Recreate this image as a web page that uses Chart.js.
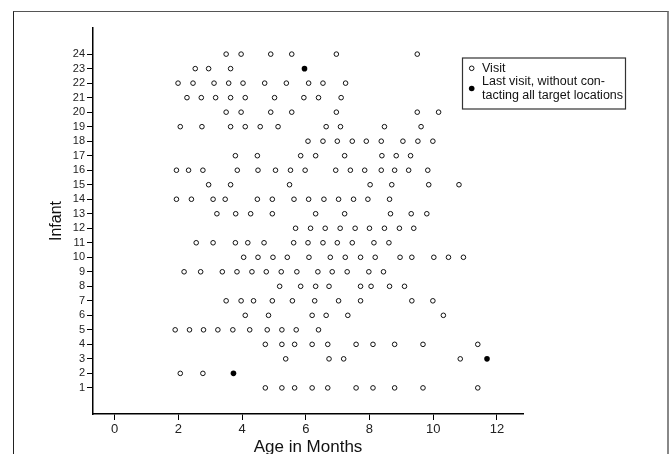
<!DOCTYPE html>
<html>
<head>
<meta charset="utf-8">
<script src="https://cdn.jsdelivr.net/npm/chart.js@4/dist/chart.umd.min.js"></script>
<style>
  html, body { margin: 0; padding: 0; background: #fff; overflow: hidden; }
  #wrap { position: relative; width: 672px; height: 454px; }
  #frame {
    position: absolute; left: 13px; top: 11px; width: 656px; height: 460px;
    border-top: 1px solid #555; border-left: 1px solid #222; border-right: 2px solid #888;
    box-sizing: border-box; pointer-events: none;
  }
</style>
</head>
<body>
<div id="wrap">
  <canvas id="chart" width="672" height="454"></canvas>
  <div id="frame"></div>
</div>
<script>
// 데이터: 영아 번호별 방문 나이(개월)
const infants = [1, 2, 3, 4, 5, 6, 7, 8, 9, 10, 11, 12, 13, 14, 15, 16, 17, 18, 19, 20, 21, 22, 23, 24];
const ageTicks = [0, 2, 4, 6, 8, 10, 12];

// visitAges[i] = infant i+1
const visitAges = [
    [4.73, 5.25, 5.65, 6.20, 6.69, 7.58, 8.11, 8.79, 9.68, 11.40],
    [2.06, 2.77],
    [5.37, 6.73, 7.19, 10.85],
    [4.73, 5.25, 5.65, 6.20, 6.69, 7.58, 8.11, 8.79, 9.68, 11.40],
    [1.90, 2.35, 2.79, 3.24, 3.71, 4.24, 4.79, 5.25, 5.70, 6.40],
    [4.10, 4.83, 6.20, 6.64, 7.32, 10.32],
    [3.50, 3.97, 4.36, 4.95, 5.58, 6.28, 7.03, 7.72, 9.33, 9.99],
    [5.18, 5.84, 6.31, 6.73, 7.72, 8.05, 8.63, 9.10],
    [2.18, 2.70, 3.38, 3.84, 4.31, 4.76, 5.23, 5.72, 6.38, 6.83, 7.30, 7.98, 8.44],
    [4.05, 4.50, 4.97, 5.42, 6.10, 6.77, 7.24, 7.72, 8.18, 8.96, 9.33, 10.02, 10.48, 10.95],
    [2.56, 3.09, 3.79, 4.18, 4.69, 5.62, 6.07, 6.54, 6.99, 7.46, 8.14, 8.61],
    [5.68, 6.15, 6.61, 7.08, 7.55, 8.00, 8.47, 8.94, 9.39],
    [3.21, 3.80, 4.27, 4.95, 6.31, 7.22, 8.66, 9.31, 9.80],
    [1.94, 2.41, 3.09, 3.47, 4.48, 4.95, 5.63, 6.09, 6.57, 7.03, 7.50, 7.95, 8.63],
    [2.95, 3.64, 5.49, 8.02, 8.70, 9.86, 10.81],
    [1.94, 2.32, 2.77, 3.85, 4.50, 5.05, 5.52, 5.98, 6.94, 7.40, 7.85, 8.37, 8.79, 9.23, 9.83],
    [3.79, 4.48, 5.84, 6.31, 7.22, 8.39, 8.84, 9.29],
    [6.07, 6.54, 6.99, 7.46, 7.90, 8.37, 9.05, 9.52, 9.99],
    [2.06, 2.74, 3.64, 4.10, 4.57, 5.13, 6.64, 7.09, 8.47, 9.62],
    [3.50, 3.97, 4.90, 5.56, 6.96, 9.50, 10.17],
    [2.27, 2.72, 3.17, 3.64, 4.10, 5.02, 5.94, 6.40, 7.11],
    [1.99, 2.46, 3.12, 3.58, 4.03, 4.71, 5.39, 6.09, 6.54, 7.25],
    [2.53, 2.95, 3.64],
    [3.50, 3.97, 4.90, 5.56, 6.96, 9.50]
];

// 마지막 방문 (모든 위치 미접촉)
const lastInfant = [2, 3, 23];
const lastAge = [3.73, 11.69, 5.96];

const FONT = '"Liberation Sans", Arial, sans-serif';

const visitPoints = [];
visitAges.forEach((ages, i) => {
    ages.forEach(a => visitPoints.push({ x: a, y: infants[i] }));
});
const lastPoints = lastAge.map((a, i) => ({ x: a, y: lastInfant[i] }));

// 범례 그리기 플러그인
const legendBox = {
    id: 'legendBox',
    afterDraw(chart) {
        const ctx = chart.ctx;
        ctx.save();
        ctx.strokeStyle = '#333';
        ctx.lineWidth = 1.2;
        ctx.strokeRect(462.5, 58, 163, 51);
        ctx.font = '12.5px ' + FONT;
        ctx.fillStyle = '#111';
        ctx.textBaseline = 'middle';
        ctx.fillText('Visit', 482, 68.5);
        ctx.fillText('Last visit, without con-', 482, 82);
        ctx.fillText('tacting all target locations', 482, 95.5);
        // 마커
        ctx.beginPath();
        ctx.arc(471.7, 68.3, 2.3, 0, Math.PI * 2);
        ctx.fillStyle = '#fff';
        ctx.fill();
        ctx.lineWidth = 1;
        ctx.strokeStyle = '#111';
        ctx.stroke();
        ctx.beginPath();
        ctx.arc(471.7, 88.5, 2.8, 0, Math.PI * 2);
        ctx.fillStyle = '#000';
        ctx.fill();
        ctx.restore();
    }
};

new Chart(document.getElementById('chart').getContext('2d'), {
    type: 'scatter',
    data: {
        datasets: [{
            label: 'Visit',
            data: visitPoints,
            pointStyle: 'circle',
            pointRadius: 2.3,
            borderWidth: 1,
            borderColor: '#111',
            backgroundColor: '#fff'
        }, {
            label: 'Last visit, without contacting all target locations',
            data: lastPoints,
            pointStyle: 'circle',
            pointRadius: 2.8,
            borderWidth: 0,
            borderColor: '#000',
            backgroundColor: '#000'
        }]
    },
    options: {
        responsive: false,
        animation: false,
        devicePixelRatio: 1,
        layout: { padding: { left: 0, top: 28, right: 149, bottom: 0 } },
        plugins: {
            legend: { display: false },
            tooltip: { enabled: false }
        },
        scales: {
            x: {
                type: 'linear',
                min: -0.68,
                max: 12.82,
                afterBuildTicks: s => { s.ticks = ageTicks.map(v => ({ value: v })); },
                afterFit: s => { s.height = 40; },
                border: { display: true, color: '#000', width: 1.5 },
                grid: { drawOnChartArea: false, drawTicks: true, tickLength: 6, color: '#000' },
                ticks: { color: '#222', padding: 2, font: { family: FONT, size: 13 }, maxRotation: 0 },
                title: {
                    display: true,
                    text: 'Age in Months',
                    color: '#111',
                    font: { family: FONT, size: 17, lineHeight: 0.8 },
                    padding: { top: 0, bottom: 0 }
                }
            },
            y: {
                type: 'linear',
                min: -0.8,
                max: 25.8,
                afterBuildTicks: s => { s.ticks = infants.map(v => ({ value: v })); },
                afterFit: s => { s.width = 93; },
                border: { display: true, color: '#000', width: 1.5 },
                grid: { drawOnChartArea: false, drawTicks: true, tickLength: 6, color: '#000' },
                ticks: { color: '#222', padding: 2, autoSkip: false, font: { family: FONT, size: 11 } },
                title: {
                    display: true,
                    text: 'Infant',
                    color: '#111',
                    font: { family: FONT, size: 16, lineHeight: 1.2 },
                    padding: { top: 47, bottom: 0 }
                }
            }
        }
    },
    plugins: [legendBox]
});
</script>
</body>
</html>
